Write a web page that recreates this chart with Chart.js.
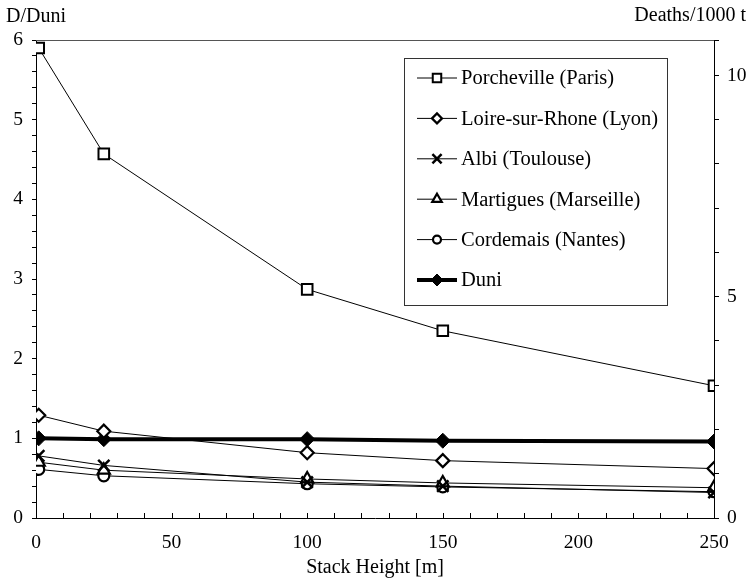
<!DOCTYPE html>
<html>
<head>
<meta charset="utf-8">
<script src="https://cdn.jsdelivr.net/npm/chart.js@4/dist/chart.umd.min.js"></script>
<style>
  html, body { margin: 0; padding: 0; background: #fff; }
  #chart { display: block; }
</style>
</head>
<body>
<canvas id="chart" width="750" height="584"></canvas>
<script>
// stack height [m] and D/Duni ratio per site
const stackHeights = [1, 25, 100, 150, 250]
const porcheville = [5.90, 4.57, 2.87, 2.35, 1.66]
const loire = [1.29, 1.09, 0.82, 0.72, 0.62]
const albi = [0.78, 0.66, 0.45, 0.40, 0.32]
const martigues = [0.70, 0.60, 0.49, 0.44, 0.38]
const cordemais = [0.61, 0.53, 0.43, 0.39, 0.33]
const duni = [1.00, 0.99, 0.99, 0.97, 0.96]

const seriesNames = ["Porcheville (Paris)", "Loire-sur-Rhone (Lyon)", "Albi (Toulouse)", "Martigues (Marseille)", "Cordemais (Nantes)", "Duni"]
const leftTicks = [0, 1, 2, 3, 4, 5, 6]
const rightTicks = [0, 5, 10]
const xTicks = [0, 50, 100, 150, 200, 250]

const serif = "'Liberation Serif', 'Times New Roman', serif"

function toPoints(values){
    return values.map(function(v, i){ return {x: stackHeights[i], y: v} })
}

const datasets = [
    {label: seriesNames[0], data: toPoints(porcheville), pointStyle: 'rect', pointRadius: 7.5, borderWidth: 1, pointBorderWidth: 2, pointBackgroundColor: '#fff'},
    {label: seriesNames[1], data: toPoints(loire), pointStyle: 'rectRot', pointRadius: 6.5, borderWidth: 1, pointBorderWidth: 2.2, pointBackgroundColor: '#fff'},
    {label: seriesNames[2], data: toPoints(albi), pointStyle: 'crossRot', pointRadius: 8, borderWidth: 1, pointBorderWidth: 2.5, pointBackgroundColor: '#fff'},
    {label: seriesNames[3], data: toPoints(martigues), pointStyle: 'triangle', pointRadius: 7, borderWidth: 1, pointBorderWidth: 2.2, pointBackgroundColor: '#fff'},
    {label: seriesNames[4], data: toPoints(cordemais), pointStyle: 'circle', pointRadius: 5.5, borderWidth: 1, pointBorderWidth: 2.2, pointBackgroundColor: '#fff'},
    {label: seriesNames[5], data: toPoints(duni), pointStyle: 'rectRot', pointRadius: 7.5, borderWidth: 4, pointBorderWidth: 1, pointBackgroundColor: '#000'}
]
datasets.forEach(function(d){
    d.borderColor = '#000'
    d.pointBorderColor = '#000'
    d.fill = false
    d.tension = 0
    d.yAxisID = 'y'
})

// legend box, axis titles, top frame line and inward x ticks
const extras = {
    id: 'extras',
    afterDraw(chart){
        const ctx = chart.ctx
        const area = chart.chartArea
        ctx.save()
        ctx.strokeStyle = '#555'
        ctx.lineWidth = 1
        ctx.beginPath()
        ctx.moveTo(area.left, area.top + 0.5)
        ctx.lineTo(area.right, area.top + 0.5)
        ctx.stroke()

        // x ticks point up into the plot
        ctx.strokeStyle = '#000'
        ctx.beginPath()
        chart.scales.x.ticks.forEach(function(t){
            const px = Math.round(chart.scales.x.getPixelForValue(t.value)) + 0.5
            ctx.moveTo(px, area.bottom)
            ctx.lineTo(px, area.bottom - 5)
        })
        ctx.stroke()

        ctx.fillStyle = '#000'
        ctx.font = '20px ' + serif
        ctx.textBaseline = 'middle'
        ctx.textAlign = 'left'
        ctx.fillText('D/Duni', 6, 17)
        ctx.textAlign = 'right'
        ctx.fillText('Deaths/1000 t', 746, 16)
        ctx.textAlign = 'center'
        ctx.fillText('Stack Height [m]', (area.left + area.right) / 2, 568)

        // legend
        ctx.strokeStyle = '#333'
        ctx.lineWidth = 1
        ctx.strokeRect(404.5, 58.5, 263, 247)
        chart.data.datasets.forEach(function(d, i){
            const y = 78 + i * 40.4
            ctx.strokeStyle = '#000'
            ctx.lineWidth = d.borderWidth
            ctx.beginPath()
            ctx.moveTo(417, y)
            ctx.lineTo(457, y)
            ctx.stroke()
            ctx.fillStyle = d.pointBackgroundColor
            ctx.strokeStyle = '#000'
            ctx.lineWidth = d.pointBorderWidth
            Chart.helpers.drawPoint(ctx, {pointStyle: d.pointStyle, radius: d.pointRadius - 1.5, borderWidth: d.pointBorderWidth, rotation: 0}, 437, y)
            ctx.fillStyle = '#000'
            ctx.font = '20.5px ' + serif
            ctx.textAlign = 'left'
            ctx.textBaseline = 'middle'
            ctx.fillText(d.label, 461, y + 1)
        })
        ctx.restore()
    }
}

function near(v, list){
    return list.some(function(t){ return Math.abs(v - t) < 1e-6 })
}

const ctx = document.getElementById('chart').getContext('2d')
const myChart = new Chart(ctx, {
    type: 'line',
    data: {datasets: datasets},
    options: {
        responsive: false,
        animation: false,
        devicePixelRatio: 1,
        layout: {padding: {top: 40}},
        plugins: {legend: {display: false}, tooltip: {enabled: false}},
        scales: {
            x: {
                type: 'linear', min: 0, max: 250,
                afterFit: function(s){ s.height = 66 },
                border: {display: true, color: '#000', width: 1},
                grid: {drawOnChartArea: false, drawTicks: false},
                ticks: {
                    stepSize: 10, autoSkip: false, maxRotation: 0, padding: 13, color: '#000',
                    font: {family: serif, size: 19.5},
                    callback: function(v){ return near(v, xTicks) ? String(Math.round(v)) : '' }
                }
            },
            y: {
                position: 'left', min: 0, max: 6,
                afterFit: function(s){ s.width = 36 },
                border: {display: true, color: '#000', width: 1},
                grid: {drawOnChartArea: false, drawTicks: true, tickLength: 4, color: '#000'},
                ticks: {
                    stepSize: 0.2, autoSkip: false, padding: 9, color: '#000',
                    font: {family: serif, size: 19.5},
                    callback: function(v){ return near(v, leftTicks) ? String(Math.round(v)) : '' }
                }
            },
            y2: {
                position: 'right', min: 0, max: 10.8,
                afterFit: function(s){ s.width = 36 },
                border: {display: true, color: '#000', width: 1},
                grid: {drawOnChartArea: false, drawTicks: true, tickLength: 5, color: '#000'},
                ticks: {
                    stepSize: 1, autoSkip: false, padding: 8, color: '#000',
                    font: {family: serif, size: 19.5},
                    callback: function(v){ return near(v, rightTicks) ? String(Math.round(v)) : '' }
                }
            }
        }
    },
    plugins: [extras]
})
</script>
</body>
</html>
